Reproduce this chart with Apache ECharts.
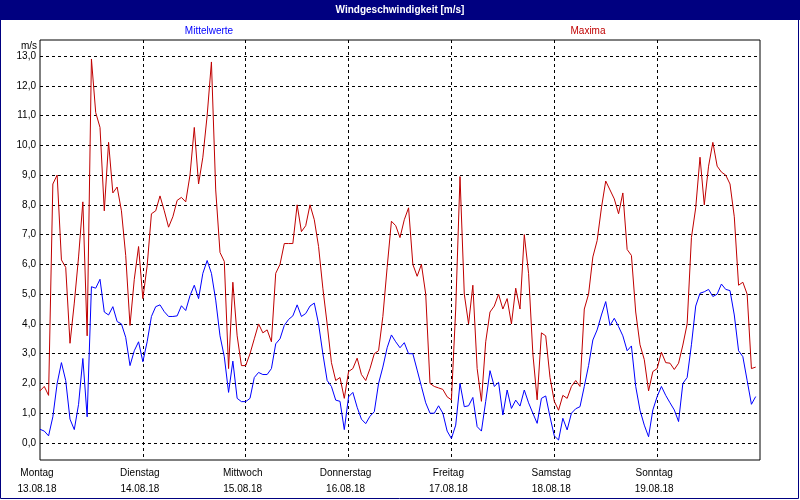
<!DOCTYPE html>
<html>
<head>
<meta charset="utf-8">
<script src="https://cdn.jsdelivr.net/npm/echarts@6/dist/echarts.min.js"></script>
<style>
html,body{margin:0;padding:0;background:#fff;}
#c{width:800px;height:500px;}
</style>
</head>
<body>
<div id="c"></div>
<script>
// Day categories (tick labels on the time axis, one per 24 h)
const dayNames = ['Montag', 'Dienstag', 'Mittwoch', 'Donnerstag', 'Freitag', 'Samstag', 'Sonntag'];
const dayDates = ['13.08.18', '14.08.18', '15.08.18', '16.08.18', '17.08.18', '18.08.18', '19.08.18'];

// Hourly mean wind speed [m/s] (Mittelwerte), 24 values per day
const mittelwerte = [
  0.46, 0.4, 0.24, 0.88, 2.0, 2.7, 2.1, 0.8, 0.45, 1.3, 2.84, 0.88, 5.25, 5.2, 5.5, 4.4, 4.3, 4.58, 4.08, 4.0, 3.55, 2.6, 3.1, 3.4,
  2.73, 3.4, 4.25, 4.58, 4.64, 4.41, 4.25, 4.25, 4.27, 4.61, 4.45, 4.95, 5.3, 4.85, 5.7, 6.13, 5.7, 4.8, 3.6, 2.9, 1.7, 2.75, 1.5, 1.39,
  1.39, 1.5, 2.2, 2.37, 2.3, 2.3, 2.5, 3.33, 3.5, 3.95, 4.15, 4.27, 4.64, 4.25, 4.35, 4.6, 4.7, 4.0, 3.0, 2.1, 1.9, 1.44, 1.4, 0.45,
  1.55, 1.7, 1.2, 0.8, 0.65, 0.9, 1.05, 2.0, 2.55, 3.2, 3.63, 3.4, 3.2, 3.37, 3.0, 3.0, 2.45, 1.9, 1.35, 1.0, 1.0, 1.25, 1.0, 0.4,
  0.15, 0.6, 2.0, 1.22, 1.25, 1.53, 0.55, 0.4, 1.4, 2.43, 1.9, 2.04, 0.94, 1.78, 1.16, 1.44, 1.24, 1.78, 1.35, 1.0, 0.66, 1.5, 1.58, 0.88,
  0.24, 0.1, 0.83, 0.44, 1.0, 1.15, 1.22, 1.9, 2.6, 3.46, 3.8, 4.3, 4.75, 3.95, 4.19, 3.91, 3.6, 3.1, 3.26, 1.9, 1.1, 0.6, 0.21, 1.11,
  1.56, 1.9, 1.6, 1.35, 1.11, 0.72, 2.0, 2.2, 3.3, 4.6, 5.03, 5.08, 5.16, 4.92, 5.0, 5.34, 5.16, 5.12, 4.3, 3.1, 2.9, 2.1, 1.3, 1.56
];

// Hourly maximum wind speed [m/s] (Maxima), 24 values per day
const maxima = [
  1.75, 1.9, 1.6, 8.7, 9.0, 6.15, 5.9, 3.35, 4.7, 6.25, 8.1, 3.6, 12.9, 11.1, 10.6, 7.8, 10.1, 8.4, 8.6, 7.8, 6.3, 3.95, 5.5, 6.6,
  4.85, 5.95, 7.7, 7.8, 8.3, 7.8, 7.25, 7.6, 8.15, 8.25, 8.1, 9.0, 10.6, 8.7, 9.6, 11.0, 12.8, 8.5, 6.4, 6.1, 2.5, 5.4, 3.6, 2.6,
  2.6, 3.0, 3.5, 4.0, 3.7, 3.8, 3.4, 5.7, 6.0, 6.7, 6.7, 6.7, 8.0, 7.1, 7.3, 8.0, 7.5, 6.6, 5.2, 4.0, 2.7, 2.1, 2.2, 1.5,
  2.4, 2.5, 2.85, 2.3, 2.1, 2.5, 3.0, 3.1, 4.25, 5.9, 7.45, 7.3, 6.9, 7.5, 7.9, 6.0, 5.6, 6.0, 5.0, 2.0, 1.9, 1.85, 1.8, 1.55,
  1.45, 4.5, 8.95, 5.0, 4.0, 5.3, 2.5, 1.4, 3.4, 4.4, 4.6, 5.0, 4.5, 4.85, 4.0, 5.2, 4.5, 7.0, 5.7, 3.0, 1.45, 3.7, 3.6, 2.2,
  1.4, 1.1, 1.6, 1.5, 1.9, 2.1, 1.9, 4.5, 5.0, 6.25, 6.8, 7.9, 8.8, 8.5, 8.2, 7.7, 8.4, 6.5, 6.3, 4.4, 3.3, 2.8, 1.75, 2.4,
  2.5, 3.05, 2.7, 2.68, 2.47, 2.68, 3.29, 4.0, 6.9, 7.9, 9.6, 8.0, 9.3, 10.1, 9.3, 9.1, 9.0, 8.7, 7.6, 5.3, 5.4, 5.0, 2.5, 2.55
];

const FONT = '"Liberation Sans", Arial, sans-serif';
const hoursTotal = dayNames.length * 24;
const toPairs = arr => arr.map((v, i) => [i, v]);

const chart = echarts.init(document.getElementById('c'), null, {renderer: 'canvas'});
chart.setOption({
  animation: false,
  backgroundColor: '#ffffff',
  textStyle: {fontFamily: FONT},
  graphic: [
    {type: 'rect', z: 0, shape: {x: 0, y: 0, width: 800, height: 20}, style: {fill: '#000080'}},
    {type: 'rect', z: 0, shape: {x: 0.5, y: 0.5, width: 798, height: 498}, style: {fill: null, stroke: '#000080', lineWidth: 1}},
    {type: 'text', z: 10, x: 400, y: 10, style: {text: 'Windgeschwindigkeit [m/s]', fill: '#ffffff', font: 'bold 10px ' + FONT, textAlign: 'center', textVerticalAlign: 'middle'}},
    {type: 'text', z: 10, x: 209, y: 31, style: {text: 'Mittelwerte', fill: '#0000ff', font: '10px ' + FONT, textAlign: 'center', textVerticalAlign: 'middle'}},
    {type: 'text', z: 10, x: 588, y: 31, style: {text: 'Maxima', fill: '#c00000', font: '10px ' + FONT, textAlign: 'center', textVerticalAlign: 'middle'}}
  ],
  grid: [
    {left: 40, right: 40, top: 56, bottom: 57, containLabel: false},
    {left: 40, right: 40, top: 40, bottom: 40, show: true, borderColor: '#000', borderWidth: 1, backgroundColor: 'transparent', containLabel: false}
  ],
  xAxis: [
    {type: 'value', gridIndex: 0, min: 0, max: hoursTotal, show: false},
    {
      type: 'value', gridIndex: 1, min: 0, max: hoursTotal, interval: 24,
      axisLine: {show: false}, axisTick: {show: false},
      splitLine: {show: true, showMinLine: false, showMaxLine: false, lineStyle: {color: '#000', width: 1, type: [3, 3]}},
      axisLabel: {
        show: true, margin: 5, color: '#000', fontSize: 10, fontFamily: FONT, lineHeight: 16,
        padding: [0, 6, 0, 0],
        formatter: v => {
          const i = Math.round(v / 24);
          return i < dayNames.length ? dayNames[i] + '\n' + dayDates[i] : '';
        }
      }
    }
  ],
  yAxis: [
    {
      type: 'value', gridIndex: 0, min: 0, max: 13, interval: 1,
      name: 'm/s', nameLocation: 'end', nameGap: 5,
      nameTextStyle: {color: '#000', fontSize: 10, fontFamily: FONT, align: 'right', padding: [0, 3, 0, 0]},
      axisLine: {show: false}, axisTick: {show: false},
      splitLine: {show: true, lineStyle: {color: '#000', width: 1, type: [3, 3]}},
      axisLabel: {margin: 4, color: '#000', fontSize: 10, fontFamily: FONT, formatter: v => v.toFixed(1).replace('.', ',')}
    },
    {type: 'value', gridIndex: 1, min: 0, max: 1, show: false, splitLine: {show: false}}
  ],
  series: [
    {
      name: 'Mittelwerte', type: 'line', xAxisIndex: 0, yAxisIndex: 0,
      data: toPairs(mittelwerte), showSymbol: false, symbol: 'none', clip: false,
      lineStyle: {color: '#0000ff', width: 1}, z: 5
    },
    {
      name: 'Maxima', type: 'line', xAxisIndex: 0, yAxisIndex: 0,
      data: toPairs(maxima), showSymbol: false, symbol: 'none', clip: false,
      lineStyle: {color: '#c00000', width: 1}, z: 4
    }
  ]
});
</script>
</body>
</html>
